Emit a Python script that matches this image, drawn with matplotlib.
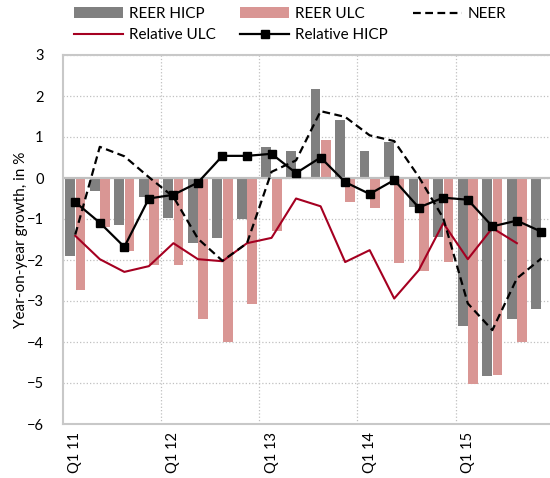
import numpy as np
import matplotlib.pyplot as plt
import matplotlib.transforms as mtransforms
from matplotlib.ticker import FixedLocator

plt.rcParams['font.family'] = ['Lato', 'DejaVu Sans']

# quarters Q1 2011 .. Q4 2015
quarters = ['Q1 11', 'Q2 11', 'Q3 11', 'Q4 11',
            'Q1 12', 'Q2 12', 'Q3 12', 'Q4 12',
            'Q1 13', 'Q2 13', 'Q3 13', 'Q4 13',
            'Q1 14', 'Q2 14', 'Q3 14', 'Q4 14',
            'Q1 15', 'Q2 15', 'Q3 15', 'Q4 15']

reer_hicp = [-1.90, -0.31, -1.15, -0.47, -0.98, -1.58, -1.47, -0.99,
             0.76, 0.66, 2.16, 1.41, 0.66, 0.87, -0.70, -1.43,
             -3.61, -4.84, -3.45, -3.19]
reer_ulc = [-2.72, -1.20, -1.77, -2.11, -2.13, -3.44, -4.01, -3.08,
            -1.30, 0.03, 0.93, -0.59, -0.73, -2.07, -2.27, -2.04,
            -5.02, -4.80, -3.99, np.nan]
neer = [-1.38, 0.76, 0.53, 0.02, -0.46, -1.48, -2.02, -1.59,
        0.15, 0.43, 1.63, 1.49, 1.04, 0.90, 0.03, -0.98,
        -3.06, -3.71, -2.45, -1.96]
rel_ulc = [-1.41, -1.98, -2.29, -2.15, -1.59, -1.98, -2.03, -1.59,
           -1.46, -0.50, -0.69, -2.05, -1.76, -2.94, -2.25, -1.10,
           -1.98, -1.22, -1.59, np.nan]
rel_hicp = [-0.59, -1.09, -1.68, -0.50, -0.41, -0.11, 0.54, 0.54,
            0.59, 0.12, 0.50, -0.10, -0.39, -0.05, -0.72, -0.48,
            -0.53, -1.18, -1.04, -1.31]

x = np.arange(len(quarters))

fig = plt.figure(figsize=(5.5, 4.78), dpi=100)
ax = fig.add_axes([63 / 550, 1 - 424 / 478, 1 - 63 / 550, (424 - 55) / 478])

gray = '#808080'
pink = '#d99694'
red = '#a50021'

ax.bar(x - 0.21, reer_hicp, width=0.4, color=gray, label='REER HICP', zorder=2)
ax.bar(x + 0.21, reer_ulc, width=0.4, color=pink, label='REER ULC', zorder=2)
ax.plot(x, rel_ulc, color=red, lw=1.5, label='Relative ULC', zorder=3)
ax.plot(x, rel_hicp, color='black', lw=1.6, marker='s', ms=5.5,
        label='Relative HICP', zorder=4)
ax.plot(x, neer, color='black', lw=1.6, ls=(0, (3.5, 2)), label='NEER', zorder=3)

ax.axhline(0, color='#c0c0c0', lw=1.6, zorder=2.5)

ax.set_xlim(-0.5, 19.35)
ax.set_ylim(-6, 3)
ax.set_yticks(range(-6, 4))
ax.set_xticks(x[::4])
ax.set_xticklabels(quarters[::4], rotation=90, fontsize=10.5)
# nudge the rotated quarter labels a little to the right
shift = mtransforms.ScaledTranslation(6 / 100, 0, fig.dpi_scale_trans)
for lab in ax.get_xticklabels():
    lab.set_transform(lab.get_transform() + shift)
ax.xaxis.set_minor_locator(FixedLocator([3.5, 7.5, 11.5, 15.5]))
ax.tick_params(axis='both', which='both', length=0)
ax.tick_params(axis='y', labelsize=10.5, pad=14)
ax.tick_params(axis='x', pad=6)

ax.grid(axis='y', which='major', color='#c0c0c0', ls=':', lw=0.9, zorder=0)
ax.grid(axis='x', which='minor', color='#c0c0c0', ls=':', lw=0.9, zorder=0)
ax.set_axisbelow(True)

for s in ['top', 'left', 'bottom']:
    ax.spines[s].set_color('#c8c8c8')
    ax.spines[s].set_linewidth(1.5)
ax.spines['right'].set_visible(False)

ax.set_ylabel('Year-on-year growth, in %', fontsize=11)
ax.yaxis.set_label_coords(-0.072, 0.5)

handles, labels = ax.get_legend_handles_labels()
order = ['REER HICP', 'Relative ULC', 'REER ULC', 'Relative HICP', 'NEER']
hmap = dict(zip(labels, handles))
fig.legend([hmap[k] for k in order], order, ncol=3, loc='upper left',
           bbox_to_anchor=(68 / 550, 0.998), frameon=False, fontsize=11,
           handlelength=3.2, handletextpad=0.4, columnspacing=1.6,
           labelspacing=0.45, borderaxespad=0)

fig.savefig('out.png', dpi=100)
